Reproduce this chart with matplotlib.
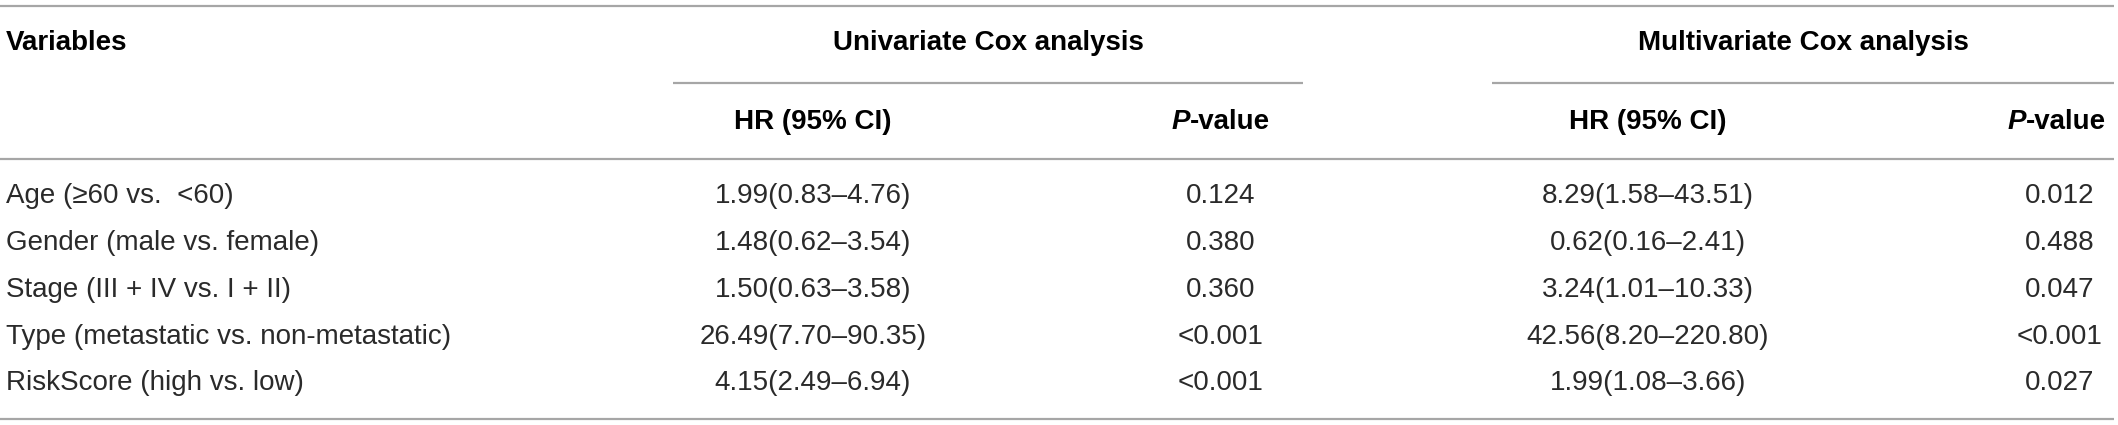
import matplotlib
matplotlib.use("Agg")
import matplotlib.pyplot as plt

# TABLE CONTENT

variables = [
    "Age (\u226560 vs.  <60)",
    "Gender (male vs. female)",
    "Stage (III + IV vs. I + II)",
    "Type (metastatic vs. non-metastatic)",
    "RiskScore (high vs. low)",
]
uni_hr = ["1.99(0.83\u20134.76)", "1.48(0.62\u20133.54)", "1.50(0.63\u20133.58)",
          "26.49(7.70\u201390.35)", "4.15(2.49\u20136.94)"]
uni_p = ["0.124", "0.380", "0.360", "<0.001", "<0.001"]
multi_hr = ["8.29(1.58\u201343.51)", "0.62(0.16\u20132.41)", "3.24(1.01\u201310.33)",
            "42.56(8.20\u2013220.80)", "1.99(1.08\u20133.66)"]
multi_p = ["0.012", "0.488", "0.047", "<0.001", "0.027"]

group_titles = ["Univariate Cox analysis", "Multivariate Cox analysis"]

# LAYOUT (pixels)

W, H = 2118, 425
FS = 20
FONT = "Liberation Sans"
TXT = "#2a2a2a"
LINE = "#a6a6a6"

col_x = [6, 813, 1221, 1648, 2060]      # left edge for first col, centres for the rest
group_span = [(673, 1303), (1492, 2114)]
y_group = 43
y_sub_line = 83
y_head = 122
y_head_line = 159
row_y = [196, 243, 290, 337, 383]
y_top, y_bottom = 6, 419

fig = plt.figure(figsize=(W / 100, H / 100), dpi=100)
ax = fig.add_axes([0, 0, 1, 1])
ax.set_xlim(0, W)
ax.set_ylim(H, 0)
ax.axis("off")

# rules
for y in [y_top, y_head_line, y_bottom]:
    ax.hlines(y, 0, W - 4, color=LINE, lw=1.6)
for x0, x1 in group_span:
    ax.hlines(y_sub_line, x0, x1, color=LINE, lw=1.6)

# header
ax.text(col_x[0], y_group, "Variables", ha="left", va="center", fontsize=FS,
        fontweight="bold", family=FONT, color="black")
for (x0, x1), title in zip(group_span, group_titles):
    ax.text((x0 + x1) / 2, y_group, title, ha="center", va="center", fontsize=FS,
            fontweight="bold", family=FONT, color="black")

for cx in [col_x[1], col_x[3]]:
    ax.text(cx, y_head, "HR (95% CI)", ha="center", va="center", fontsize=FS,
            fontweight="bold", family=FONT, color="black")

# P-value header: italic P + bold "-value", centred as one piece
renderer = fig.canvas.get_renderer()
for cx in [col_x[2], col_x[4]]:
    tp = ax.text(0, y_head, "P", ha="left", va="center", fontsize=FS,
                 fontweight="bold", fontstyle="italic", family=FONT, color="black")
    tv = ax.text(0, y_head, "-value", ha="left", va="center", fontsize=FS,
                 fontweight="bold", family=FONT, color="black")
    wp = tp.get_window_extent(renderer).width
    wv = tv.get_window_extent(renderer).width
    start = min(cx - (wp + wv) / 2, W - 12 - wp - wv)
    tp.set_x(start)
    tv.set_x(start + wp)

# body rows
for i, y in enumerate(row_y):
    ax.text(col_x[0], y, variables[i], ha="left", va="center", fontsize=FS,
            family=FONT, color=TXT)
    for cx, col in zip(col_x[1:], [uni_hr, uni_p, multi_hr, multi_p]):
        ax.text(cx, y, col[i], ha="center", va="center", fontsize=FS,
                family=FONT, color=TXT)

fig.savefig("out.png", dpi=100)
